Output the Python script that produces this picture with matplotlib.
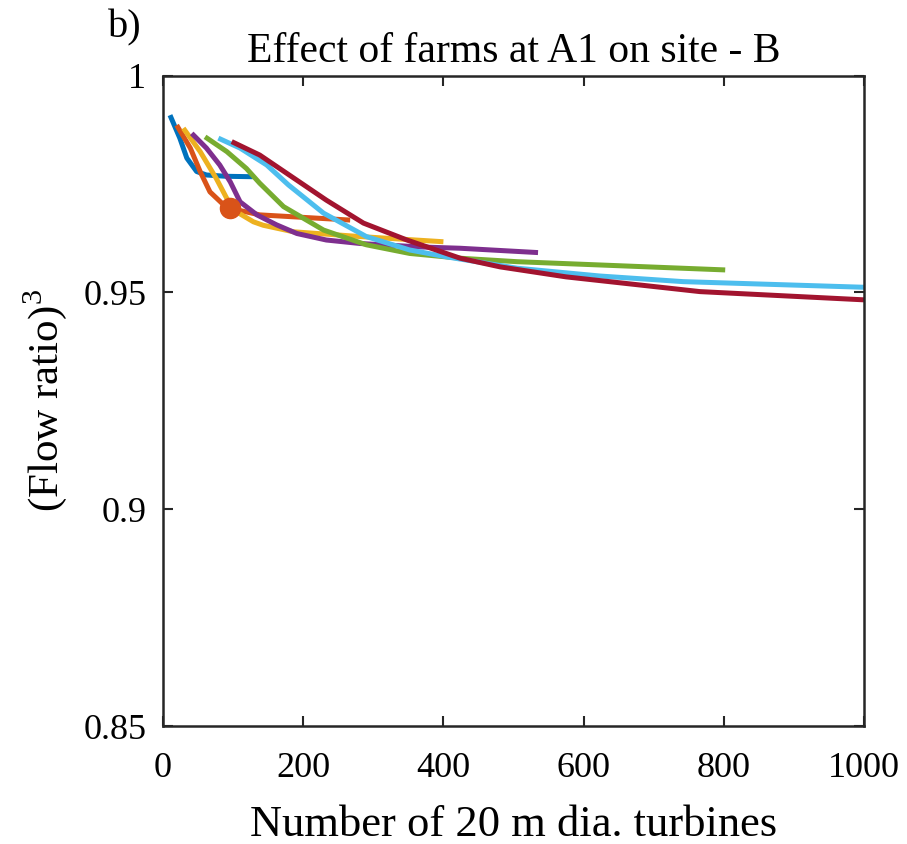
import matplotlib
matplotlib.use("Agg")
import matplotlib.pyplot as plt
from matplotlib.ticker import FixedLocator, FixedFormatter

plt.rcParams['font.family'] = ['Liberation Serif', 'DejaVu Serif']
plt.rcParams['mathtext.fontset'] = 'custom'
plt.rcParams['mathtext.rm'] = 'Liberation Serif'

title = "Effect of farms at A1 on site - B"
xlabel = "Number of 20 m dia. turbines"
panel = "b)"

x_blue = [10, 24, 34, 48, 62, 90, 128]
y_blue = [0.9909, 0.9856, 0.9810, 0.9779, 0.9771, 0.9768, 0.9767]

x_orange = [19.5, 39, 53, 67, 84, 96, 138, 267]
y_orange = [0.9886, 0.9833, 0.9779, 0.9732, 0.9706, 0.9694, 0.9679, 0.9667]

x_yellow = [29, 53, 76, 91, 105, 129, 143, 186, 281, 400]
y_yellow = [0.9879, 0.9825, 0.9763, 0.9717, 0.9686, 0.9663, 0.9655, 0.9640, 0.9629, 0.9617]

x_purple = [41, 62, 81, 96, 110, 134, 162, 191, 233, 281, 367, 424, 535]
y_purple = [0.9867, 0.9833, 0.9794, 0.9755, 0.9709, 0.9679, 0.9656, 0.9636, 0.9621,
            0.9613, 0.9605, 0.9602, 0.9592]

x_green = [60, 91, 119, 138, 172, 229, 290, 352, 424, 505, 802]
y_green = [0.9859, 0.9825, 0.9786, 0.9752, 0.9698, 0.9644, 0.9610, 0.9590, 0.9579,
           0.9571, 0.9552]

x_cyan = [79, 110, 148, 179, 229, 290, 352, 405, 505, 623, 742, 1000]
y_cyan = [0.9856, 0.9833, 0.9794, 0.9748, 0.9683, 0.9629, 0.9598, 0.9582, 0.9556,
          0.9538, 0.9525, 0.9512]

x_red = [98, 138, 191, 233, 286, 348, 424, 481, 575, 766, 1000]
y_red = [0.9848, 0.9817, 0.9759, 0.9713, 0.9660, 0.9621, 0.9579, 0.9559, 0.9536,
         0.9502, 0.9483]

dot_x = [96]
dot_y = [0.9694]

xticks = [0, 200, 400, 600, 800, 1000]
yticks = [0.85, 0.9, 0.95, 1.0]
yticklabels = ["0.85", "0.9", "0.95", "1"]

series = [
    (x_blue, y_blue, "#0072BD"),
    (x_orange, y_orange, "#D95319"),
    (x_yellow, y_yellow, "#EDB120"),
    (x_purple, y_purple, "#7E2F8E"),
    (x_green, y_green, "#77AC30"),
    (x_cyan, y_cyan, "#4DBEEE"),
    (x_red, y_red, "#A2142F"),
]

fig = plt.figure(figsize=(9.07, 8.44), dpi=100)
ax = fig.add_axes([0.1797, 0.1398, 0.7729, 0.7705])

for xs, ys, c in series:
    ax.plot(xs, ys, color=c, lw=3.6, solid_joinstyle='round', solid_capstyle='butt')
ax.plot(dot_x, dot_y, 'o', color="#D95319", markersize=14.5, zorder=5)

ax.set_xlim(0, 1000)
ax.set_ylim(0.85, 1.0)
ax.xaxis.set_major_locator(FixedLocator(xticks))
ax.yaxis.set_major_locator(FixedLocator(yticks))
ax.yaxis.set_major_formatter(FixedFormatter(yticklabels))
ax.tick_params(direction='in', length=7, width=1.5, top=True, right=True,
               labelsize=26, colors='#262626', labelcolor='black')
ax.tick_params(axis='x', pad=19)
ax.tick_params(axis='y', pad=12)
for s in ax.spines.values():
    s.set_linewidth(1.8)
    s.set_color('#262626')

ax.set_title(title, fontsize=30, pad=10)
ax.set_xlabel(xlabel, fontsize=32, labelpad=14)
ax.set_ylabel(r"(Flow ratio)$^3$", fontsize=31, labelpad=10)
fig.text(0.119, 0.967, panel, fontsize=29, ha='left', va='center')

fig.savefig("out.png", dpi=100)
